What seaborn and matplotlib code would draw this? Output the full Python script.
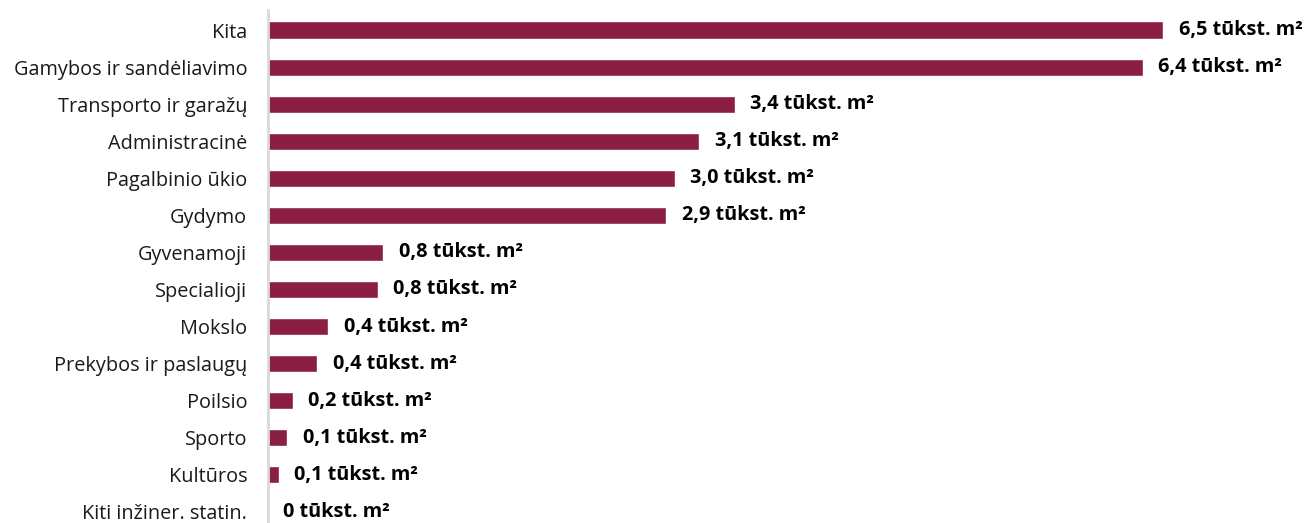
import matplotlib
matplotlib.use('Agg')
import matplotlib.pyplot as plt
import seaborn as sns
import pandas as pd

# categories and values (thousand m2)
categories = ['Kita', 'Gamybos ir sandėliavimo', 'Transporto ir garažų', 'Administracinė',
              'Pagalbinio ūkio', 'Gydymo', 'Gyvenamoji', 'Specialioji', 'Mokslo',
              'Prekybos ir paslaugų', 'Poilsio', 'Sporto', 'Kultūros', 'Kiti inžiner. statin.']
values = [6.52, 6.37, 3.40, 3.14, 2.96, 2.90, 0.84, 0.80, 0.44, 0.36, 0.18, 0.14, 0.08, 0.0]

BAR_COLOR = '#8A1F43'

sns.set_theme(style='white')
plt.rcParams['font.family'] = ['Open Sans', 'DejaVu Sans']

df = pd.DataFrame({'category': categories, 'value': values})

fig = plt.figure(figsize=(13.09, 5.23), dpi=100)
ax = fig.add_axes([268 / 1309, 0, 1 - 268 / 1309, 513 / 523])

sns.barplot(data=df, y='category', x='value', orient='h', color=BAR_COLOR,
            saturation=1, width=0.46, ax=ax)

# value labels like "6,5 tūkst. m²"
labels = []
for v in values:
    num = '0' if v == 0 else f'{v:.1f}'.replace('.', ',')
    labels.append(f'{num} tūkst. m²')
ax.bar_label(ax.containers[0], labels=labels, padding=11, fontsize=14.3,
             fontweight='bold', color='black', clip_on=False)

ax.set_xlim(0, 7.58)
ax.set_ylim(13.3, -0.54)
ax.set_xlabel('')
ax.set_ylabel('')
ax.set_xticks([])
ax.tick_params(axis='y', length=0, pad=15, labelsize=14.3, labelcolor='#1a1a1a')

for side in ['top', 'right', 'bottom']:
    ax.spines[side].set_visible(False)
ax.spines['left'].set_color('#D9D9D9')
ax.spines['left'].set_linewidth(2)

fig.savefig('out.png', dpi=100)
